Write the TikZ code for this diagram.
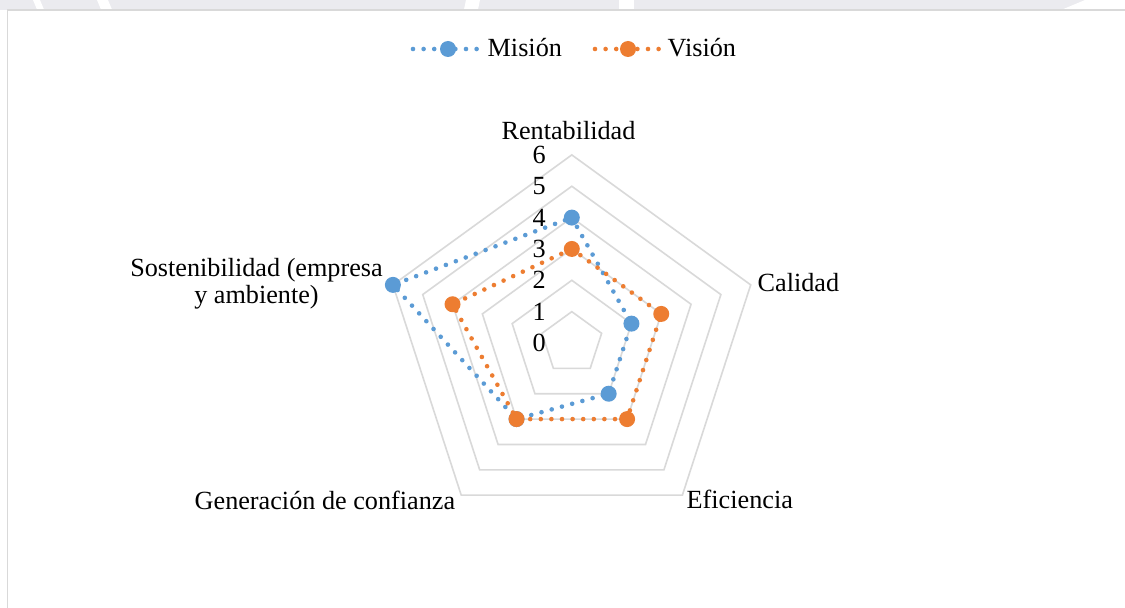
\documentclass[tikz,border=0pt]{standalone}
\usepackage{fontspec}
\setmainfont{Liberation Serif}
\definecolor{misionblue}{HTML}{5B9BD5}
\definecolor{visionorange}{HTML}{ED7D31}
\definecolor{gridgray}{HTML}{D9D9D9}
\definecolor{framegray}{HTML}{D9D9D9}
\definecolor{wmgray}{HTML}{EBEBEF}
\tikzset{
  ringline/.style={draw=gridgray, line width=1.6bp, line join=miter},
  misionline/.style={draw=misionblue, line width=4.6bp, line cap=round, dash pattern=on 0bp off 10.6bp},
  visionline/.style={draw=visionorange, line width=4.6bp, line cap=round, dash pattern=on 0bp off 10.6bp},
  misionmark/.style={circle, fill=misionblue, draw=none, minimum size=16bp, inner sep=0pt},
  visionmark/.style={circle, fill=visionorange, draw=none, minimum size=16bp, inner sep=0pt},
  lbl/.style={inner sep=0pt, font=\fontsize{26.3}{27.2}\selectfont, text=black},
  ticklbl/.style={inner sep=0pt, font=\fontsize{26.3}{27.2}\selectfont, text=black, anchor=east},
}
\begin{document}
\begin{tikzpicture}[x=1bp, y=-1bp]
\useasboundingbox (0,0) rectangle (1125,608);
\fill[white] (0,0) rectangle (1125,608);
% faint watermark band at the top
\fill[wmgray] (0,0) rectangle (1125,9.6);
\fill[white] (33,0) -- (40,0) -- (44,9.6) -- (37,9.6) -- cycle;
\fill[white] (97,0) -- (108,0) -- (112,9.6) -- (101,9.6) -- cycle;
\fill[white] (466,0) -- (480,0) -- (478,9.6) -- (464,9.6) -- cycle;
\fill[white] (619,0) -- (634,0) -- (634,9.6) -- (619,9.6) -- cycle;
\fill[white] (1085,0) -- (1125,0) -- (1125,9.6) -- (1062,9.6) -- cycle;
% chart frame
\draw[draw=framegray, line width=1.6bp] (1125,10.2) -- (7.5,10.2) -- (7.5,608);

\pgfmathsetmacro{\cx}{571.8}
\pgfmathsetmacro{\cy}{343}
\pgfmathsetmacro{\ur}{31.35}

% grid rings
\foreach \k in {1,...,6}{
  \draw[ringline] ({\cx+\k*\ur*cos(90)},{\cy-\k*\ur*sin(90)})
    -- ({\cx+\k*\ur*cos(18)},{\cy-\k*\ur*sin(18)})
    -- ({\cx+\k*\ur*cos(-54)},{\cy-\k*\ur*sin(-54)})
    -- ({\cx+\k*\ur*cos(-126)},{\cy-\k*\ur*sin(-126)})
    -- ({\cx+\k*\ur*cos(162)},{\cy-\k*\ur*sin(162)}) -- cycle;
}
% tick labels
\foreach \k in {0,...,6}{
  \node[ticklbl] (tick\k) at (545.8,{\cy-\k*\ur}) {\k};
}
% axis labels
\node[lbl, anchor=base] (rent) at (568.5,140) {Rentabilidad};
\node[lbl, anchor=base west] (cal) at (757.5,292) {Calidad};
\node[lbl, anchor=base west] (efi) at (686.5,508) {Eficiencia};
\node[lbl, anchor=base west] (gen) at (194.5,509) {Generación de confianza};
\node[lbl, anchor=base, align=center] (sost) at (256.5,304) {Sostenibilidad (empresa\\y ambiente)};

% data points
\foreach \v/\a/\n in {4/90/1,2/18/2,2/-54/3,3/-126/4,6/162/5}{
  \coordinate (m\n) at ({\cx+\v*\ur*cos(\a)},{\cy-\v*\ur*sin(\a)});
}
\foreach \v/\a/\n in {3/90/1,3/18/2,3/-54/3,3/-126/4,4/162/5}{
  \coordinate (v\n) at ({\cx+\v*\ur*cos(\a)},{\cy-\v*\ur*sin(\a)});
}
% Mision series
\draw[misionline] (m1) -- (m2) -- (m3) -- (m4) -- (m5) -- cycle;
\foreach \n in {1,...,5}{ \node[misionmark] (mm\n) at (m\n) {}; }
% Vision series
\draw[visionline] (v1) -- (v2) -- (v3) -- (v4) -- (v5) -- cycle;
\foreach \n in {1,...,5}{ \node[visionmark] (vm\n) at (v\n) {}; }

% legend
\coordinate (lgMa) at (413,49);
\coordinate (lgMb) at (478.5,49);
\draw[misionline] (lgMa) -- (lgMb);
\node[misionmark] (lgMdot) at (448,49) {};
\node[lbl, anchor=base west] (lgMtxt) at (487.5,57) {Misión};
\coordinate (lgVa) at (595,49);
\coordinate (lgVb) at (660,49);
\draw[visionline] (lgVa) -- (lgVb);
\node[visionmark] (lgVdot) at (628,49) {};
\node[lbl, anchor=base west] (lgVtxt) at (667.5,57) {Visión};
\end{tikzpicture}
\end{document}
